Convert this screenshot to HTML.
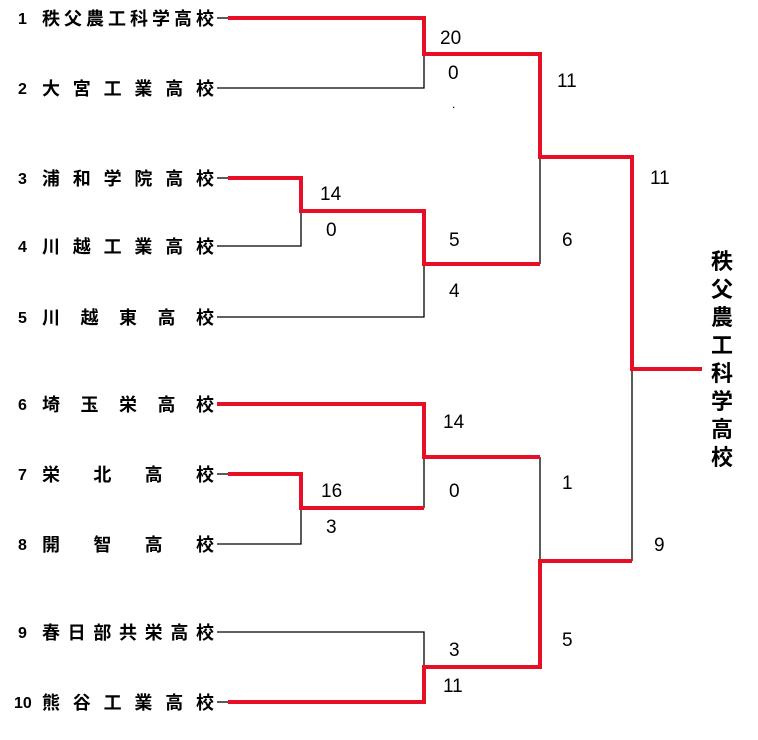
<!DOCTYPE html>
<html><head><meta charset="utf-8"><style>
html,body{margin:0;padding:0;background:#fff;}
svg{display:block;}
text{font-family:"Liberation Sans","Noto Sans CJK JP",sans-serif;fill:#000;font-weight:600;}
.s text{font-weight:normal;}
</style></head><body>
<svg width="758" height="740" viewBox="0 0 758 740" xmlns="http://www.w3.org/2000/svg">
<g font-size="18">
<text x="18" y="24" font-size="16">1</text><text x="42" y="25" textLength="172" lengthAdjust="spacing">秩父農工科学高校</text>
<text x="18" y="94" font-size="16">2</text><text x="42" y="95" textLength="172" lengthAdjust="spacing">大宮工業高校</text>
<text x="18" y="184" font-size="16">3</text><text x="42" y="185" textLength="172" lengthAdjust="spacing">浦和学院高校</text>
<text x="18" y="252" font-size="16">4</text><text x="42" y="253" textLength="172" lengthAdjust="spacing">川越工業高校</text>
<text x="18" y="323" font-size="16">5</text><text x="42" y="324" textLength="172" lengthAdjust="spacing">川越東高校</text>
<text x="18" y="410" font-size="16">6</text><text x="42" y="411" textLength="172" lengthAdjust="spacing">埼玉栄高校</text>
<text x="18" y="480" font-size="16">7</text><text x="42" y="481" textLength="172" lengthAdjust="spacing">栄北高校</text>
<text x="18" y="550" font-size="16">8</text><text x="42" y="551" textLength="172" lengthAdjust="spacing">開智高校</text>
<text x="18" y="638" font-size="16">9</text><text x="42" y="639" textLength="172" lengthAdjust="spacing">春日部共栄高校</text>
<text x="14" y="708" font-size="16">10</text><text x="42" y="709" textLength="172" lengthAdjust="spacing">熊谷工業高校</text>
</g>
<g stroke="#000" stroke-width="1.3" fill="none">
<polyline points="217,18 228,18"/>
<polyline points="217,88 424,88 424,54"/>
<polyline points="217,178 228,178"/>
<polyline points="217,246 301,246 301,211"/>
<polyline points="217,317 424,317 424,264"/>
<polyline points="540,157 540,264"/>
<polyline points="217,474 228,474"/>
<polyline points="217,544 301,544 301,508"/>
<polyline points="424,457 424,508"/>
<polyline points="540,457 540,561"/>
<polyline points="217,632 424,632 424,667"/>
<polyline points="217,702 228,702"/>
<polyline points="632,369 632,561"/>
</g>
<g stroke="#e60f26" stroke-width="4" fill="none" stroke-linejoin="miter">
<polyline points="228,18 424,18 424,54 540,54 540,157 632,157 632,369 702,369"/>
<polyline points="228,178 301,178 301,211 424,211 424,264 540,264"/>
<polyline points="217,404 424,404 424,457 540,457"/>
<polyline points="228,474 301,474 301,508 424,508"/>
<polyline points="228,702 424,702 424,667 540,667 540,561 632,561"/>
</g>
<g font-size="19" class="s">
<text x="440" y="44">20</text><text x="448" y="79">0</text><text x="452" y="108" font-size="12">.</text>
<text x="557" y="87">11</text>
<text x="320" y="200">14</text><text x="326" y="236">0</text>
<text x="449" y="246">5</text><text x="449" y="297">4</text>
<text x="562" y="246">6</text>
<text x="650" y="184">11</text>
<text x="443" y="428">14</text><text x="449" y="497">0</text>
<text x="321" y="497">16</text><text x="326" y="533">3</text>
<text x="562" y="489">1</text>
<text x="654" y="551">9</text>
<text x="449" y="656">3</text><text x="443" y="692">11</text>
<text x="562" y="646">5</text>
</g>
<g font-size="22" text-anchor="middle">
<text x="722" y="269">秩</text><text x="722" y="297">父</text><text x="722" y="325">農</text>
<text x="722" y="353">工</text><text x="722" y="381">科</text><text x="722" y="409">学</text>
<text x="722" y="437">高</text><text x="722" y="465">校</text>
</g>
</svg>
</body></html>
